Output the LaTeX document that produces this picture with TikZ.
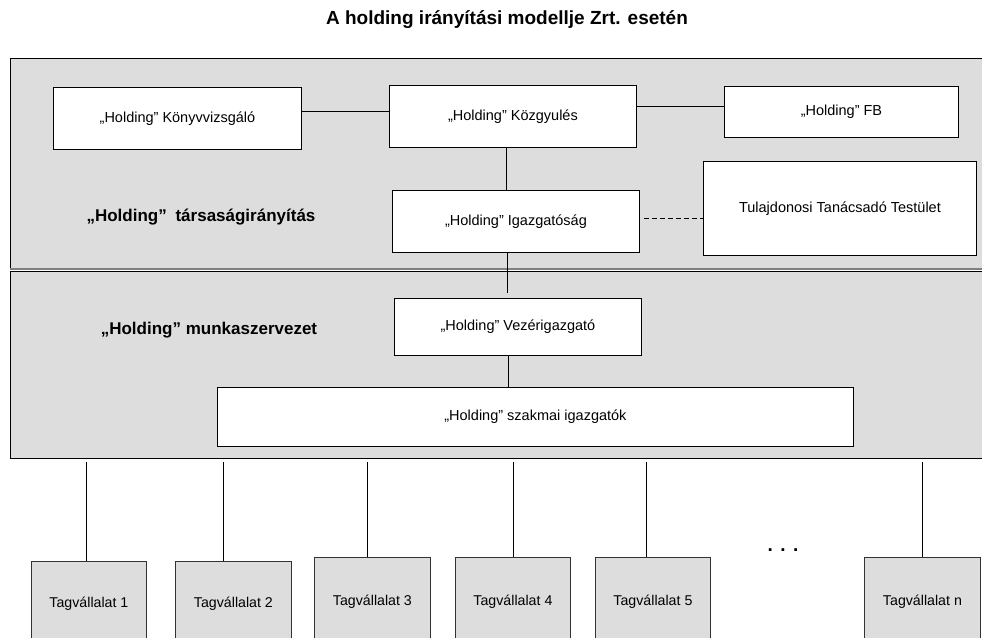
\documentclass[tikz,border=0pt]{standalone}
\usepackage{fontspec}
\setmainfont{Liberation Sans}
\usetikzlibrary{calc}
\definecolor{panelgray}{HTML}{DDDDDD}
\begin{document}
\begin{tikzpicture}[x=1pt,y=-1pt,
  panel/.style={draw=black, fill=panelgray, line width=1pt, anchor=north west, inner sep=0pt},
  unit/.style={draw=black, fill=white, line width=0.9pt, anchor=north west, inner sep=0pt,
    font=\fontsize{14.5}{17}\selectfont},
  member/.style={draw=black!80, fill=panelgray, line width=0.9pt, anchor=north west, inner sep=0pt,
    minimum width=115pt, font=\fontsize{14.2}{17}\selectfont},
  layer/.style={font=\bfseries\fontsize{17}{20}\selectfont, inner sep=0pt},
  link/.style={line width=0.9pt, draw=black},
]
\useasboundingbox (0,0) rectangle (982,637);
\clip (0,0) rectangle (982,637);

% title
\node[font=\bfseries\fontsize{19}{22}\selectfont, inner sep=0pt] (title) at (507,20)
  {A holding irányítási modellje Zrt. esetén};

% the two layers
\node[panel, minimum width=976pt, minimum height=210pt] (gov) at (10,58) {};
\draw[black!50, line width=1.6pt] (gov.south west) -- (gov.south east);
\node[panel, minimum width=976pt, minimum height=187pt] (work) at (10,271) {};

\node[layer] (govlabel) at (201,217) {„Holding”\hspace{4pt} társaságirányítás};
\node[layer] (worklabel) at (209,330) {„Holding” munkaszervezet};

% governance bodies
\node[unit, minimum width=248pt, minimum height=62pt] (konyv) at (53,87) {„Holding” Könyvvizsgáló};
\node[unit, minimum width=247pt, minimum height=62pt] (kozgy) at (389,85) {„Holding” Közgyulés};
\node[unit, minimum width=234pt, minimum height=51pt] (fb) at (724,86) {„Holding” FB};
\node[unit, minimum width=247pt, minimum height=62pt] (igazg) at (392,190) {„Holding” Igazgatóság};
\node[unit, minimum width=273pt, minimum height=94pt] (tulaj) at (703,161) {Tulajdonosi Tanácsadó Testület};

% operating organisation
\node[unit, minimum width=247pt, minimum height=57pt] (vezer) at (394,298) {„Holding” Vezérigazgató};
\node[unit, minimum width=636pt, minimum height=59pt] (szakmai) at (217,387) {„Holding” szakmai igazgatók};

% member companies
\node[member, minimum height=84pt] (m1) at (31,561) {Tagvállalat 1};
\node[member, minimum width=116pt, minimum height=84pt] (m2) at (175,561) {Tagvállalat 2};
\node[member, minimum width=116pt, minimum height=88pt] (m3) at (314,557) {Tagvállalat 3};
\node[member, minimum height=88pt] (m4) at (455,557) {Tagvállalat 4};
\node[member, minimum height=88pt] (m5) at (595,557) {Tagvállalat 5};
\node[member, minimum width=116pt, minimum height=88pt] (mn) at (864,557) {Tagvállalat n};
\node[font=\bfseries\fontsize{19}{22}\selectfont, inner sep=0pt, anchor=base] (dots) at (783,551)
  {.\hspace{7.5pt}.\hspace{7.5pt}.};

% connectors inside the governance layer
\coordinate (h1) at ([yshift=7pt]konyv.east);
\draw[link] (h1) -- (h1 -| kozgy.west);
\coordinate (h2) at ([yshift=10pt]kozgy.east);
\draw[link] (h2) -- (h2 -| fb.west);
\coordinate (v1) at ([xshift=-6.5pt]kozgy.south);
\draw[link] (v1) -- (v1 |- igazg.north);
\coordinate (d1) at ([xshift=4pt,yshift=3pt]igazg.east);
\draw[link, dash pattern=on 5pt off 3pt] (d1) -- (d1 -| tulaj.west);

% connectors down to the operating organisation
\coordinate (v2) at ([xshift=-8.5pt]igazg.south);
\draw[link] (v2) -- ($(v2 |- vezer.north)+(0,-5)$);
\coordinate (v3) at ([xshift=-9.5pt]vezer.south);
\draw[link] (v3) -- (v3 |- szakmai.north);

% connectors to the member companies
\foreach \x/\m in {86/m1, 223/m2, 367/m3, 513/m4, 646/m5, 922/mn} {
  \coordinate (t\m) at (\x,462);
  \draw[link] (t\m) -- (t\m |- \m.north);
}
\end{tikzpicture}
\end{document}
